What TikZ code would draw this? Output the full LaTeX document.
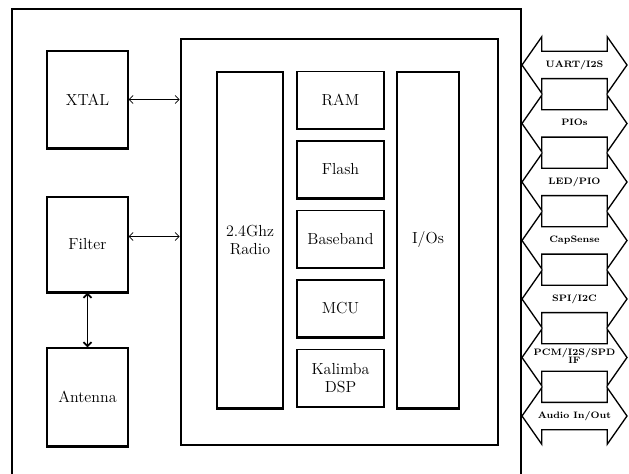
\documentclass[tikz,border=0pt]{standalone}
\usetikzlibrary{shapes.arrows,arrows.meta}
\newcommand{\twoline}[2]{\begin{tabular}{@{}c@{}}#1\\[-1.5pt]#2\end{tabular}}
\tikzset{
  blk/.style={draw, line width=0.9pt, rectangle, align=center, inner sep=1pt, font=\fontsize{12}{13}\selectfont},
  port/.style={draw, line width=1pt, double arrow, double arrow tip angle=110, double arrow head extend=10.9pt,
    minimum height=78.75pt, minimum width=0pt, inner xsep=0pt, inner ysep=6.25pt,
    text height=5.25pt, text depth=1.75pt, font=\fontsize{7}{7}\selectfont\bfseries},
  link/.style={<->, >={Straight Barb[length=3pt]}, line width=0.6pt}
}
\begin{document}
\begin{tikzpicture}[x=0.75pt,y=-0.75pt]
\useasboundingbox (0,0) rectangle (629,474);
% board outline
\draw[line width=2pt] (12,480) -- (12,9) -- (521,9) -- (521,480);
% off-chip parts
\node[blk, minimum width=60.75pt, minimum height=72.75pt] (xtal) at (87.5,99.5) {XTAL};
\node[blk, minimum width=60.75pt, minimum height=71.25pt] (filter) at (87.5,244.5) {Filter};
\node[blk, minimum width=60.75pt, minimum height=73.5pt] (ant) at (87.5,397) {Antenna};
% chip
\node[draw, line width=2pt, minimum width=237.75pt, minimum height=304.5pt] (chip) at (339.5,242) {};
\node[blk, minimum width=49.5pt, minimum height=252pt] (radio) at (250,240) {2.4Ghz\\Radio};
\node[blk, minimum width=46.5pt, minimum height=252pt] (ios) at (428,240) {I/Os};
\foreach \t [count=\i from 0] in {RAM, Flash, Baseband, MCU, {Kalimba\\DSP}}
  \node[blk, minimum width=65.25pt, minimum height=42.75pt] (m\i) at (340.5,100+69.5*\i) {\t};
% heavier bottom edges
\foreach \n in {xtal,filter,ant,radio,ios,m0,m1,m2,m3,m4}
  \draw[line width=2pt] (\n.south west) -- (\n.south east);
% links
\draw[link] (xtal.east) -- (xtal.east -| chip.west);
\draw[link] ([yshift=6pt]filter.east) -- ([yshift=6pt]filter.east -| chip.west);
\draw[link, line width=1.3pt] (filter) -- (ant);
% interfaces
\foreach \t [count=\i from 0] in {UART/I2S, PIOs, LED/PIO, CapSense, SPI/I2C, {\twoline{PCM/I2S/SPD}{IF}}, Audio In/Out}
  \node[port] (p\i) at (574.5,65+58.5*\i) {\t};
\end{tikzpicture}
\end{document}
